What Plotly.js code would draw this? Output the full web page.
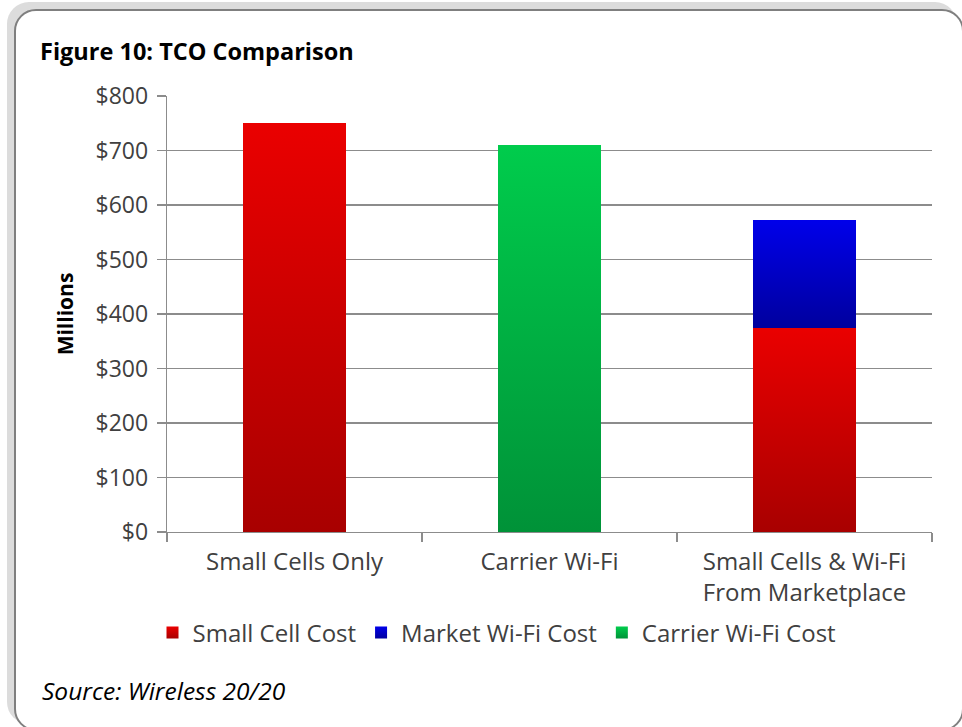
<!DOCTYPE html>
<html>
<head>
<meta charset="utf-8">
<script src="https://cdn.plot.ly/plotly-3.0.1.min.js"></script>
<style>
  html, body { margin: 0; padding: 0; background: #ffffff; width: 962px; height: 727px; overflow: hidden; }
  #shadow { position: absolute; left: 7px; top: 2px; width: 950px; height: 722px; background: #dcdcdc; border-radius: 22px; }
  #frame { position: absolute; left: 14px; top: 9px; width: 950px; height: 722px; background: #ffffff; border: 2px solid #7f7f7f; border-radius: 22px; box-sizing: border-box; }
  #chart { position: absolute; left: 0; top: 0; width: 962px; height: 727px; }
</style>
</head>
<body>
<div id="shadow"></div>
<div id="frame"></div>
<div id="chart"></div>
<script>
const categories = ["Small Cells Only", "Carrier Wi-Fi", "Small Cells & Wi-Fi<br>From Marketplace"];
const smallCellCost = [750, null, 375];
const marketWifiCost = [null, null, 197];
const carrierWifiCost = [null, 710, null];
const yTickVals = [0, 100, 200, 300, 400, 500, 600, 700, 800];
const yTickText = ["$0", "$100", "$200", "$300", "$400", "$500", "$600", "$700", "$800"];

const FONT = "'Open Sans', Lato, sans-serif";
const TXT = "#404040";

const traces = [
  { type: "bar", name: "Small Cell Cost", x: categories, y: smallCellCost, marker: { color: "#cc0000", line: { width: 0 } }, hoverinfo: "skip" },
  { type: "bar", name: "Market Wi-Fi Cost", x: categories, y: marketWifiCost, marker: { color: "#0000c8", line: { width: 0 } }, hoverinfo: "skip" },
  { type: "bar", name: "Carrier Wi-Fi Cost", x: categories, y: carrierWifiCost, marker: { color: "#00b043", line: { width: 0 } }, hoverinfo: "skip" }
];

const layout = {
  width: 962, height: 727,
  paper_bgcolor: "rgba(0,0,0,0)", plot_bgcolor: "rgba(0,0,0,0)",
  margin: { l: 167, r: 30, t: 96, b: 195 },
  barmode: "stack",
  bargap: 0.596,
  font: { family: FONT, color: TXT, size: 23 },
  title: {
    text: "<b>Figure 10: TCO Comparison</b>",
    font: { family: FONT, size: 23.5, color: "#000000" },
    xref: "container", yref: "container",
    x: 40 / 962, xanchor: "left",
    y: 1 - 52 / 727, yanchor: "middle"
  },
  xaxis: {
    type: "category",
    tickson: "boundaries",
    ticks: "outside", ticklen: 9, tickcolor: "#8c8c8c", tickwidth: 1.3,
    showline: true, linecolor: "#8c8c8c", linewidth: 1.3,
    showgrid: false,
    tickfont: { family: FONT, size: 24, color: TXT },
    ticklabelstandoff: 8,
    fixedrange: true
  },
  yaxis: {
    range: [0, 800],
    tickvals: yTickVals, ticktext: yTickText,
    ticks: "outside", ticklen: 9, tickcolor: "#8c8c8c", tickwidth: 1.3,
    showline: true, linecolor: "#8c8c8c", linewidth: 1.3,
    showgrid: true, gridcolor: "#8c8c8c", gridwidth: 1.3,
    zeroline: false,
    tickfont: { family: FONT, size: 23, color: TXT },
    ticklabelstandoff: 4,
    title: { text: "<b>Millions</b>", font: { family: FONT, size: 21, color: "#000000" }, standoff: 16 },
    fixedrange: true
  },
  legend: {
    orientation: "h",
    xref: "container", yref: "container",
    x: 497 / 962, xanchor: "center",
    y: 1 - 633 / 727, yanchor: "middle",
    font: { family: FONT, size: 24, color: TXT },
    itemwidth: 30,
    traceorder: "normal",
    bgcolor: "rgba(0,0,0,0)"
  },
  annotations: [{
    text: "<i>Source: Wireless 20/20</i>",
    xref: "paper", yref: "paper",
    x: (40 - 167) / 765, xanchor: "left",
    y: (532 - 690) / 436, yanchor: "middle",
    showarrow: false,
    font: { family: FONT, size: 24.5, color: "#000000" }
  }],
  showlegend: true
};

const gradients = [
  { id: "gradRed", top: "#ea0000", bottom: "#a80000" },
  { id: "gradBlue", top: "#0000ea", bottom: "#00009e" },
  { id: "gradGreen", top: "#00cc4c", bottom: "#009238" }
];

Plotly.newPlot("chart", traces, layout, { staticPlot: true, displayModeBar: false }).then(function (gd) {
  const svg = gd.querySelector("svg.main-svg");
  const ns = "http://www.w3.org/2000/svg";
  let defs = svg.querySelector("defs");
  if (!defs) { defs = document.createElementNS(ns, "defs"); svg.insertBefore(defs, svg.firstChild); }
  gradients.forEach(function (g) {
    const lg = document.createElementNS(ns, "linearGradient");
    lg.setAttribute("id", g.id);
    lg.setAttribute("x1", "0"); lg.setAttribute("y1", "0");
    lg.setAttribute("x2", "0"); lg.setAttribute("y2", "1");
    const s1 = document.createElementNS(ns, "stop");
    s1.setAttribute("offset", "0"); s1.setAttribute("stop-color", g.top);
    const s2 = document.createElementNS(ns, "stop");
    s2.setAttribute("offset", "1"); s2.setAttribute("stop-color", g.bottom);
    lg.appendChild(s1); lg.appendChild(s2);
    defs.appendChild(lg);
  });
  const barTraces = gd.querySelectorAll(".barlayer .trace");
  barTraces.forEach(function (t, i) {
    t.querySelectorAll("path").forEach(function (p) { p.style.fill = "url(#" + gradients[i].id + ")"; });
  });
  const legendTraces = gd.querySelectorAll(".legend .traces");
  legendTraces.forEach(function (t, i) {
    t.querySelectorAll(".legendpoints path").forEach(function (p) { p.style.fill = "url(#" + gradients[i].id + ")"; });
  });
});
</script>
</body>
</html>
